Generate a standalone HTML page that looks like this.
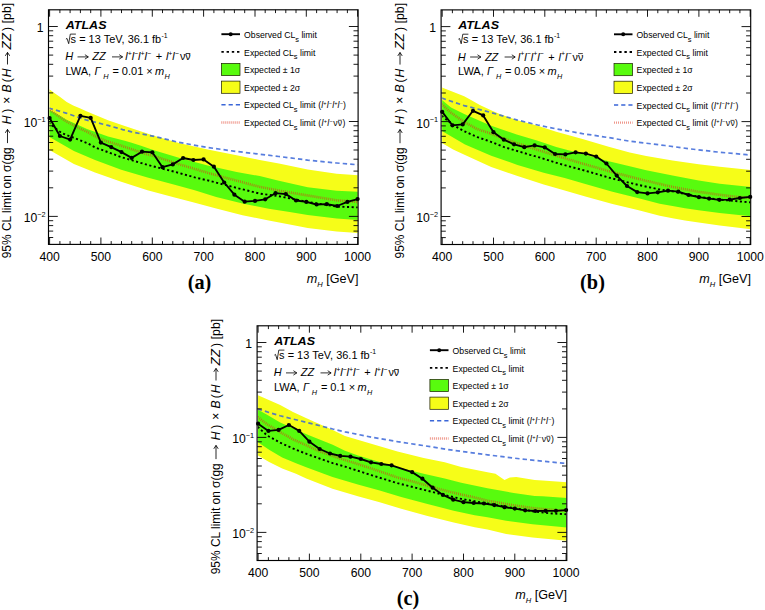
<!DOCTYPE html>
<html lang="en"><head><meta charset="utf-8"><title>ATLAS limits</title>
<style>html,body{margin:0;padding:0;background:#fff}body{width:765px;height:610px;overflow:hidden;font-family:"Liberation Sans",sans-serif}svg{display:block}</style></head>
<body>
<svg width="765" height="610" viewBox="0 0 765 610">
<rect width="765" height="610" fill="#fff"/>
<g id="panel-a">
<clipPath id="clip-a"><rect x="49.6" y="9.8" width="308.0" height="234.6"/></clipPath>
<g clip-path="url(#clip-a)">
<polygon fill="#f6fd18" points="48.7,88.9 53.6,92.4 60.1,97.1 66.7,102.0 73.2,105.6 79.8,108.2 87.0,111.5 108.0,120.2 124.8,125.9 154.7,136.0 178.9,143.1 207.7,149.6 236.6,155.3 259.7,160.0 278.9,163.5 307.7,169.5 336.6,173.8 358.0,175.3 358.0,233.0 336.6,231.5 307.7,227.9 289.7,224.5 268.7,220.5 242.5,215.3 216.2,208.5 192.0,201.9 173.7,197.2 147.5,190.2 121.2,181.7 95.0,172.6 73.9,164.0 48.7,149.6"/>
<polygon fill="#58fb0e" points="48.7,109.6 55.5,113.1 66.0,119.6 87.0,129.0 108.0,136.6 124.8,140.8 131.6,142.8 141.0,145.7 154.7,150.6 178.9,157.8 207.7,165.4 236.6,171.9 259.7,176.1 278.9,180.8 307.7,187.2 336.6,190.8 358.0,191.8 358.0,220.0 336.6,218.5 307.7,214.9 289.7,212.0 268.7,208.7 242.5,203.5 216.2,196.9 194.7,190.3 173.7,184.6 147.5,177.6 121.2,169.8 95.0,160.1 73.9,151.1 48.7,136.6"/>
<polyline fill="none" stroke="#e0341c" stroke-width="2.6" stroke-opacity="0.68" stroke-dasharray="0.85 1.15" points="48.7,109.0 55.5,113.9 66.0,121.2 76.5,127.0 87.0,131.7 97.5,137.5 108.0,141.7 118.5,144.8 131.6,149.2 146.0,154.0 154.7,156.3 178.9,164.2 207.7,172.8 236.6,180.7 259.7,186.8 278.9,190.6 307.7,195.5 336.6,200.3 358.0,202.0"/>
<polyline fill="none" stroke="#3a66d8" stroke-width="1.7" stroke-opacity="0.85" stroke-dasharray="4.4 3.1" points="48.7,108.0 66.0,113.1 87.0,120.2 108.0,125.4 122.7,129.6 131.6,131.9 154.7,136.5 178.9,142.4 207.7,147.5 236.6,151.5 259.7,154.2 278.9,156.5 307.7,160.1 336.6,163.0 358.0,164.8"/>
<polyline fill="none" stroke="#000" stroke-width="1.9" stroke-dasharray="2.1 2.5" points="48.7,122.3 57.6,130.1 61.8,133.0 66.0,134.9 76.5,138.8 87.0,143.0 95.0,147.4 102.7,150.2 121.2,157.1 147.5,164.9 173.7,171.5 194.7,177.4 207.7,180.4 236.6,187.9 259.7,193.6 278.9,196.2 307.7,201.9 336.6,206.6 358.0,207.4"/>
</g>
<polyline fill="none" stroke="#000" stroke-width="1.85" stroke-linejoin="round" points="49.6,118.0 59.9,136.0 70.1,139.6 80.4,115.8 90.7,117.9 100.9,142.6 111.2,147.1 121.5,152.1 131.7,157.9 142.0,151.7 152.3,152.3 162.5,167.2 172.8,164.4 183.1,158.0 193.4,160.0 203.6,159.4 213.9,166.7 224.2,182.5 234.4,194.7 244.7,201.7 255.0,200.9 265.2,199.3 275.5,193.2 285.8,194.1 296.0,200.5 306.3,201.9 316.6,204.5 326.8,204.1 337.1,206.0 347.4,201.9 357.6,199.1"/>
<circle cx="49.6" cy="118.0" r="2.1" fill="#000"/>
<circle cx="59.9" cy="136.0" r="2.1" fill="#000"/>
<circle cx="70.1" cy="139.6" r="2.1" fill="#000"/>
<circle cx="80.4" cy="115.8" r="2.1" fill="#000"/>
<circle cx="90.7" cy="117.9" r="2.1" fill="#000"/>
<circle cx="100.9" cy="142.6" r="2.1" fill="#000"/>
<circle cx="111.2" cy="147.1" r="2.1" fill="#000"/>
<circle cx="121.5" cy="152.1" r="2.1" fill="#000"/>
<circle cx="131.7" cy="157.9" r="2.1" fill="#000"/>
<circle cx="142.0" cy="151.7" r="2.1" fill="#000"/>
<circle cx="152.3" cy="152.3" r="2.1" fill="#000"/>
<circle cx="162.5" cy="167.2" r="2.1" fill="#000"/>
<circle cx="172.8" cy="164.4" r="2.1" fill="#000"/>
<circle cx="183.1" cy="158.0" r="2.1" fill="#000"/>
<circle cx="193.4" cy="160.0" r="2.1" fill="#000"/>
<circle cx="203.6" cy="159.4" r="2.1" fill="#000"/>
<circle cx="213.9" cy="166.7" r="2.1" fill="#000"/>
<circle cx="224.2" cy="182.5" r="2.1" fill="#000"/>
<circle cx="234.4" cy="194.7" r="2.1" fill="#000"/>
<circle cx="244.7" cy="201.7" r="2.1" fill="#000"/>
<circle cx="255.0" cy="200.9" r="2.1" fill="#000"/>
<circle cx="265.2" cy="199.3" r="2.1" fill="#000"/>
<circle cx="275.5" cy="193.2" r="2.1" fill="#000"/>
<circle cx="285.8" cy="194.1" r="2.1" fill="#000"/>
<circle cx="296.0" cy="200.5" r="2.1" fill="#000"/>
<circle cx="306.3" cy="201.9" r="2.1" fill="#000"/>
<circle cx="316.6" cy="204.5" r="2.1" fill="#000"/>
<circle cx="326.8" cy="204.1" r="2.1" fill="#000"/>
<circle cx="337.1" cy="206.0" r="2.1" fill="#000"/>
<circle cx="347.4" cy="201.9" r="2.1" fill="#000"/>
<circle cx="357.6" cy="199.1" r="2.1" fill="#000"/>
<rect x="48.5" y="9.8" width="309.6" height="234.6" fill="none" stroke="#000" stroke-width="1.15"/>
<path d="M49.6 244.4v-6.9M49.6 9.8v6.9M59.9 244.4v-3.3M59.9 9.8v3.3M70.1 244.4v-3.3M70.1 9.8v3.3M80.4 244.4v-3.3M80.4 9.8v3.3M90.7 244.4v-3.3M90.7 9.8v3.3M100.9 244.4v-6.9M100.9 9.8v6.9M111.2 244.4v-3.3M111.2 9.8v3.3M121.5 244.4v-3.3M121.5 9.8v3.3M131.7 244.4v-3.3M131.7 9.8v3.3M142.0 244.4v-3.3M142.0 9.8v3.3M152.3 244.4v-6.9M152.3 9.8v6.9M162.5 244.4v-3.3M162.5 9.8v3.3M172.8 244.4v-3.3M172.8 9.8v3.3M183.1 244.4v-3.3M183.1 9.8v3.3M193.4 244.4v-3.3M193.4 9.8v3.3M203.6 244.4v-6.9M203.6 9.8v6.9M213.9 244.4v-3.3M213.9 9.8v3.3M224.2 244.4v-3.3M224.2 9.8v3.3M234.4 244.4v-3.3M234.4 9.8v3.3M244.7 244.4v-3.3M244.7 9.8v3.3M255.0 244.4v-6.9M255.0 9.8v6.9M265.2 244.4v-3.3M265.2 9.8v3.3M275.5 244.4v-3.3M275.5 9.8v3.3M285.8 244.4v-3.3M285.8 9.8v3.3M296.0 244.4v-3.3M296.0 9.8v3.3M306.3 244.4v-6.9M306.3 9.8v6.9M316.6 244.4v-3.3M316.6 9.8v3.3M326.8 244.4v-3.3M326.8 9.8v3.3M337.1 244.4v-3.3M337.1 9.8v3.3M347.4 244.4v-3.3M347.4 9.8v3.3M357.6 244.4v-6.9M357.6 9.8v6.9M48.5 26.5h9.3M358.2 26.5h-9.3M48.5 121.5h9.3M358.2 121.5h-9.3M48.5 92.9h4.7M358.2 92.9h-4.7M48.5 76.1h4.7M358.2 76.1h-4.7M48.5 64.3h4.7M358.2 64.3h-4.7M48.5 55.1h4.7M358.2 55.1h-4.7M48.5 47.6h4.7M358.2 47.6h-4.7M48.5 41.2h4.7M358.2 41.2h-4.7M48.5 35.7h4.7M358.2 35.7h-4.7M48.5 30.8h4.7M358.2 30.8h-4.7M48.5 216.4h9.3M358.2 216.4h-9.3M48.5 187.8h4.7M358.2 187.8h-4.7M48.5 171.1h4.7M358.2 171.1h-4.7M48.5 159.2h4.7M358.2 159.2h-4.7M48.5 150.0h4.7M358.2 150.0h-4.7M48.5 142.5h4.7M358.2 142.5h-4.7M48.5 136.2h4.7M358.2 136.2h-4.7M48.5 130.7h4.7M358.2 130.7h-4.7M48.5 125.8h4.7M358.2 125.8h-4.7M48.5 237.5h4.7M358.2 237.5h-4.7M48.5 231.1h4.7M358.2 231.1h-4.7M48.5 225.6h4.7M358.2 225.6h-4.7M48.5 220.7h4.7M358.2 220.7h-4.7" stroke="#000" stroke-width="0.9" fill="none"/>
<g font-family="Liberation Sans, sans-serif"  fill="#000">
<text x="49.6" y="261.1" font-size="12.20" text-anchor="middle" >400</text>
<text x="100.9" y="261.1" font-size="12.20" text-anchor="middle" >500</text>
<text x="152.3" y="261.1" font-size="12.20" text-anchor="middle" >600</text>
<text x="203.6" y="261.1" font-size="12.20" text-anchor="middle" >700</text>
<text x="255.0" y="261.1" font-size="12.20" text-anchor="middle" >800</text>
<text x="306.3" y="261.1" font-size="12.20" text-anchor="middle" >900</text>
<text x="357.6" y="261.1" font-size="12.20" text-anchor="middle" >1000</text>
<text x="43.5" y="32.3" font-size="12.20" text-anchor="end" >1</text>
<text x="45.7" y="127.4" font-size="12.20" text-anchor="end" >10<tspan dy="-5.3" font-size="7.3">&#8722;1</tspan></text>
<text x="45.7" y="222.3" font-size="12.20" text-anchor="end" >10<tspan dy="-5.3" font-size="7.3">&#8722;2</tspan></text>
<text x="358.4" y="283.3" font-size="12.60" text-anchor="end" ><tspan font-style="italic">m</tspan><tspan dy="3.28" font-size="7.56" font-style="italic">H</tspan><tspan dy="-3.28" font-size="12.60">&#8203;</tspan> [GeV]</text>
<g transform="translate(11.4 258.3) rotate(-90)" font-size="12.1">
<text x="0.0" y="0" textLength="111.0" lengthAdjust="spacingAndGlyphs">95% CL limit on &#963;(gg</text>
<path d="M115.2 -3.9H128.9M125.5 -6.1l3.4 2.2l-3.4 2.2" fill="none" stroke="#000" stroke-width="0.85" stroke-linejoin="miter"/>
<text x="134.0" y="0" font-style="italic">H</text>
<text x="145.6" y="0" >)</text>
<text x="154.6" y="0" >&#215;</text>
<text x="165.8" y="0" font-style="italic">B</text>
<text x="176.0" y="0" >(</text>
<text x="181.0" y="0" font-style="italic">H</text>
<path d="M193.8 -3.9H205.9M202.5 -6.1l3.4 2.2l-3.4 2.2" fill="none" stroke="#000" stroke-width="0.85" stroke-linejoin="miter"/>
<text x="208.8" y="0" font-style="italic" textLength="16.4" lengthAdjust="spacingAndGlyphs">ZZ</text>
<text x="227.4" y="0" >)</text>
<text x="234.9" y="0" textLength="20.6" lengthAdjust="spacingAndGlyphs">[pb]</text>
</g>
<text x="65.7" y="28.6" font-size="11.40" text-anchor="start" font-weight="bold" font-style="italic" textLength="40.8" lengthAdjust="spacingAndGlyphs">ATLAS</text>
<path d="M65.9 39.1l1.1 -0.7l1.7 5.3l1.6 -9.6h5.6" fill="none" stroke="#000" stroke-width="0.8"/>
<text x="70.6" y="42.8" font-size="11.00" text-anchor="start" textLength="90.6" lengthAdjust="spacingAndGlyphs">s = 13 TeV, 36.1 fb</text>
<text x="161.5" y="38.2" font-size="6.90" text-anchor="start" >-1</text>
<text x="65.2" y="60.4" font-size="11.00" text-anchor="start" font-style="italic">H</text>
<path d="M77.5 56.9H88.3M84.9 54.7l3.4 2.2l-3.4 2.2" fill="none" stroke="#000" stroke-width="0.80" stroke-linejoin="miter"/>
<text x="92.3" y="60.4" font-size="11.00" text-anchor="start" font-style="italic">ZZ</text>
<path d="M112.0 56.9H122.6M119.2 54.7l3.4 2.2l-3.4 2.2" fill="none" stroke="#000" stroke-width="0.80" stroke-linejoin="miter"/>
<text x="125.2" y="60.4" font-size="11.00" text-anchor="start" font-style="italic" textLength="25.8" lengthAdjust="spacing">l<tspan dy="-4.18" font-size="6.82">+</tspan><tspan dy="4.18" font-size="11.00">&#8203;</tspan>l<tspan dy="-4.18" font-size="6.82">&#8722;</tspan><tspan dy="4.18" font-size="11.00">&#8203;</tspan>l<tspan dy="-4.18" font-size="6.82">+</tspan><tspan dy="4.18" font-size="11.00">&#8203;</tspan>l<tspan dy="-4.18" font-size="6.82">&#8722;</tspan><tspan dy="4.18" font-size="11.00">&#8203;</tspan></text>
<text x="155.7" y="60.4" font-size="11.00" text-anchor="start" >+</text>
<text x="165.9" y="60.4" font-size="11.00" text-anchor="start" font-style="italic" textLength="12.9" lengthAdjust="spacing">l<tspan dy="-4.18" font-size="6.82">+</tspan><tspan dy="4.18" font-size="11.00">&#8203;</tspan>l<tspan dy="-4.18" font-size="6.82">&#8722;</tspan><tspan dy="4.18" font-size="11.00">&#8203;</tspan></text>
<text x="179.9" y="60.4" font-size="11.00" text-anchor="start" textLength="10.8" lengthAdjust="spacingAndGlyphs">&#957;&#957;</text>
<path d="M185.7 53.5h4.6" stroke="#000" stroke-width="0.75"/>
<text x="65.5" y="75.3" font-size="11.00" text-anchor="start" >LWA,</text>
<text x="94.5" y="75.3" font-size="11.00" text-anchor="start" font-style="italic">&#915;</text>
<text x="103.3" y="78.5" font-size="7.30" text-anchor="start" font-style="italic">H</text>
<text x="112.4" y="75.3" font-size="11.00" text-anchor="start" >= 0.01 &#215;</text>
<text x="155.0" y="75.3" font-size="11.00" text-anchor="start" font-style="italic">m</text>
<text x="164.5" y="78.5" font-size="7.30" text-anchor="start" font-style="italic">H</text>
<path d="M221.4 34.2H240.0" stroke="#000" stroke-width="1.9"/>
<circle cx="230.7" cy="34.2" r="2.0" fill="#000"/>
<path d="M221.4 51.9H240.0" stroke="#000" stroke-width="1.9" stroke-dasharray="2.4 2.8"/>
<rect x="221.4" y="63.4" width="18.6" height="12.2" fill="#58fb0e" stroke="#1a1a00" stroke-width="0.7"/>
<rect x="221.4" y="81.1" width="18.6" height="12.2" fill="#f6fd18" stroke="#1a1a00" stroke-width="0.7"/>
<path d="M221.4 104.8H240.0" stroke="#3a66d8" stroke-width="1.5" stroke-dasharray="4.2 3.0"/>
<path d="M221.4 122.5H240.0" stroke="#e0341c" stroke-width="2.3" stroke-opacity="0.6" stroke-dasharray="0.85 1.15"/>
<text x="244.1" y="37.8" font-size="8.70" text-anchor="start" id="lg-a-0">Observed CL<tspan dy="3.83" font-size="7.48" font-style="normal">s</tspan><tspan dy="-3.83" font-size="8.70">&#8203;</tspan> limit</text>
<text x="244.1" y="55.5" font-size="8.70" text-anchor="start" id="lg-a-1">Expected CL<tspan dy="3.83" font-size="7.48" font-style="normal">s</tspan><tspan dy="-3.83" font-size="8.70">&#8203;</tspan> limit</text>
<text x="244.1" y="73.1" font-size="8.70" text-anchor="start" id="lg-a-2">Expected &#177; 1&#963;</text>
<text x="244.1" y="90.8" font-size="8.70" text-anchor="start" id="lg-a-3">Expected &#177; 2&#963;</text>
<text x="244.1" y="108.4" font-size="8.70" text-anchor="start" id="lg-a-4">Expected CL<tspan dy="3.83" font-size="7.48" font-style="normal">s</tspan><tspan dy="-3.83" font-size="8.70">&#8203;</tspan> limit</text>
<text x="244.1" y="126.1" font-size="8.70" text-anchor="start" id="lg-a-5">Expected CL<tspan dy="3.83" font-size="7.48" font-style="normal">s</tspan><tspan dy="-3.83" font-size="8.70">&#8203;</tspan> limit</text>
<text x="318.3" y="108.4" font-size="8.70" text-anchor="start" textLength="27.6" lengthAdjust="spacing">(<tspan font-style="italic">l<tspan dy="-3.31" font-size="5.39">+</tspan><tspan dy="3.31" font-size="8.70">&#8203;</tspan>l<tspan dy="-3.31" font-size="5.39">&#8722;</tspan><tspan dy="3.31" font-size="8.70">&#8203;</tspan>l<tspan dy="-3.31" font-size="5.39">+</tspan><tspan dy="3.31" font-size="8.70">&#8203;</tspan>l<tspan dy="-3.31" font-size="5.39">&#8722;</tspan><tspan dy="3.31" font-size="8.70">&#8203;</tspan></tspan>)</text>
<text x="318.3" y="126.1" font-size="8.70" text-anchor="start" textLength="27.0" lengthAdjust="spacing">(<tspan font-style="italic">l<tspan dy="-3.31" font-size="5.39">+</tspan><tspan dy="3.31" font-size="8.70">&#8203;</tspan>l<tspan dy="-3.31" font-size="5.39">&#8722;</tspan><tspan dy="3.31" font-size="8.70">&#8203;</tspan></tspan>&#957;&#957;)</text>
<path d="M337.9 120.3h3.9" stroke="#000" stroke-width="0.65"/>
</g>
</g>
<g id="panel-b">
<clipPath id="clip-b"><rect x="442.2" y="9.9" width="308.0" height="234.6"/></clipPath>
<g clip-path="url(#clip-b)">
<polygon fill="#f6fd18" points="441.7,87.5 464.2,96.2 471.0,99.9 479.8,105.1 490.5,110.0 500.8,114.4 516.7,119.9 537.7,125.7 556.2,131.7 582.5,139.1 608.7,146.8 629.7,152.5 646.2,155.9 672.5,160.4 698.7,164.2 719.7,166.7 751.0,170.0 751.0,229.3 719.7,225.6 698.7,222.5 685.0,220.4 672.5,218.2 659.7,215.8 638.7,210.3 612.5,204.0 586.2,196.7 564.7,190.6 543.7,184.6 517.5,176.1 491.2,166.9 465.0,155.0 453.1,149.4 441.7,142.9"/>
<polygon fill="#58fb0e" points="441.7,99.7 451.0,107.4 464.2,114.1 490.5,125.5 516.7,134.6 537.7,140.7 556.2,147.0 582.5,154.0 608.7,161.3 629.7,166.2 646.2,170.3 672.5,175.5 698.7,180.4 719.7,183.7 751.0,187.1 751.0,216.2 719.7,212.9 698.7,210.2 685.0,208.2 672.5,206.0 659.7,203.7 638.7,198.3 612.5,191.7 586.2,184.2 564.7,178.1 543.7,172.8 517.5,164.9 491.2,155.7 465.0,144.6 441.7,130.8"/>
<polyline fill="none" stroke="#e0341c" stroke-width="2.6" stroke-opacity="0.68" stroke-dasharray="0.85 1.15" points="441.7,104.2 451.1,112.8 464.2,122.0 477.4,129.2 490.5,133.4 503.6,138.7 516.7,143.1 529.9,147.3 537.7,149.9 556.2,155.7 582.5,163.6 608.7,171.1 629.7,176.5 646.2,180.8 672.5,186.9 698.7,191.8 717.5,194.5 737.0,196.9 751.0,197.8"/>
<polyline fill="none" stroke="#3a66d8" stroke-width="1.7" stroke-opacity="0.85" stroke-dasharray="4.4 3.1" points="441.7,98.1 464.2,105.6 490.5,112.4 516.7,119.9 537.7,125.0 556.2,128.9 582.5,133.6 608.7,137.6 629.7,141.2 665.0,145.5 691.2,149.0 717.5,152.0 746.4,154.7 751.0,155.1"/>
<polyline fill="none" stroke="#000" stroke-width="1.9" stroke-dasharray="2.1 2.5" points="441.7,115.8 453.7,125.3 464.2,131.2 477.4,137.1 490.5,141.7 503.6,146.9 516.7,150.8 529.9,154.8 537.7,156.9 560.0,163.9 586.2,171.0 612.5,178.6 638.7,185.0 659.7,189.5 672.5,191.3 698.7,196.8 719.7,199.6 739.0,201.4 751.0,202.4"/>
</g>
<polyline fill="none" stroke="#000" stroke-width="1.85" stroke-linejoin="round" points="442.2,111.9 452.4,125.3 462.7,124.4 473.0,110.8 483.2,115.4 493.5,132.2 503.8,139.7 514.0,144.3 524.3,147.2 534.6,145.4 544.8,147.4 555.1,154.0 565.4,154.4 575.6,152.3 585.9,153.6 596.2,156.6 606.4,163.5 616.7,175.6 627.0,186.0 637.2,192.1 647.5,193.4 657.8,192.3 668.0,190.7 678.3,191.7 688.6,195.0 698.9,197.2 709.1,198.6 719.4,199.8 729.7,199.6 739.9,198.0 750.2,196.9"/>
<circle cx="442.2" cy="111.9" r="2.1" fill="#000"/>
<circle cx="452.4" cy="125.3" r="2.1" fill="#000"/>
<circle cx="462.7" cy="124.4" r="2.1" fill="#000"/>
<circle cx="473.0" cy="110.8" r="2.1" fill="#000"/>
<circle cx="483.2" cy="115.4" r="2.1" fill="#000"/>
<circle cx="493.5" cy="132.2" r="2.1" fill="#000"/>
<circle cx="503.8" cy="139.7" r="2.1" fill="#000"/>
<circle cx="514.0" cy="144.3" r="2.1" fill="#000"/>
<circle cx="524.3" cy="147.2" r="2.1" fill="#000"/>
<circle cx="534.6" cy="145.4" r="2.1" fill="#000"/>
<circle cx="544.8" cy="147.4" r="2.1" fill="#000"/>
<circle cx="555.1" cy="154.0" r="2.1" fill="#000"/>
<circle cx="565.4" cy="154.4" r="2.1" fill="#000"/>
<circle cx="575.6" cy="152.3" r="2.1" fill="#000"/>
<circle cx="585.9" cy="153.6" r="2.1" fill="#000"/>
<circle cx="596.2" cy="156.6" r="2.1" fill="#000"/>
<circle cx="606.4" cy="163.5" r="2.1" fill="#000"/>
<circle cx="616.7" cy="175.6" r="2.1" fill="#000"/>
<circle cx="627.0" cy="186.0" r="2.1" fill="#000"/>
<circle cx="637.2" cy="192.1" r="2.1" fill="#000"/>
<circle cx="647.5" cy="193.4" r="2.1" fill="#000"/>
<circle cx="657.8" cy="192.3" r="2.1" fill="#000"/>
<circle cx="668.0" cy="190.7" r="2.1" fill="#000"/>
<circle cx="678.3" cy="191.7" r="2.1" fill="#000"/>
<circle cx="688.6" cy="195.0" r="2.1" fill="#000"/>
<circle cx="698.9" cy="197.2" r="2.1" fill="#000"/>
<circle cx="709.1" cy="198.6" r="2.1" fill="#000"/>
<circle cx="719.4" cy="199.8" r="2.1" fill="#000"/>
<circle cx="729.7" cy="199.6" r="2.1" fill="#000"/>
<circle cx="739.9" cy="198.0" r="2.1" fill="#000"/>
<circle cx="750.2" cy="196.9" r="2.1" fill="#000"/>
<rect x="441.1" y="9.9" width="309.6" height="234.6" fill="none" stroke="#000" stroke-width="1.15"/>
<path d="M442.2 244.5v-6.9M442.2 9.9v6.9M452.4 244.5v-3.3M452.4 9.9v3.3M462.7 244.5v-3.3M462.7 9.9v3.3M473.0 244.5v-3.3M473.0 9.9v3.3M483.2 244.5v-3.3M483.2 9.9v3.3M493.5 244.5v-6.9M493.5 9.9v6.9M503.8 244.5v-3.3M503.8 9.9v3.3M514.0 244.5v-3.3M514.0 9.9v3.3M524.3 244.5v-3.3M524.3 9.9v3.3M534.6 244.5v-3.3M534.6 9.9v3.3M544.8 244.5v-6.9M544.8 9.9v6.9M555.1 244.5v-3.3M555.1 9.9v3.3M565.4 244.5v-3.3M565.4 9.9v3.3M575.6 244.5v-3.3M575.6 9.9v3.3M585.9 244.5v-3.3M585.9 9.9v3.3M596.2 244.5v-6.9M596.2 9.9v6.9M606.4 244.5v-3.3M606.4 9.9v3.3M616.7 244.5v-3.3M616.7 9.9v3.3M627.0 244.5v-3.3M627.0 9.9v3.3M637.2 244.5v-3.3M637.2 9.9v3.3M647.5 244.5v-6.9M647.5 9.9v6.9M657.8 244.5v-3.3M657.8 9.9v3.3M668.0 244.5v-3.3M668.0 9.9v3.3M678.3 244.5v-3.3M678.3 9.9v3.3M688.6 244.5v-3.3M688.6 9.9v3.3M698.9 244.5v-6.9M698.9 9.9v6.9M709.1 244.5v-3.3M709.1 9.9v3.3M719.4 244.5v-3.3M719.4 9.9v3.3M729.7 244.5v-3.3M729.7 9.9v3.3M739.9 244.5v-3.3M739.9 9.9v3.3M750.2 244.5v-6.9M750.2 9.9v6.9M441.1 26.6h9.3M750.8 26.6h-9.3M441.1 121.6h9.3M750.8 121.6h-9.3M441.1 93.0h4.7M750.8 93.0h-4.7M441.1 76.2h4.7M750.8 76.2h-4.7M441.1 64.4h4.7M750.8 64.4h-4.7M441.1 55.2h4.7M750.8 55.2h-4.7M441.1 47.7h4.7M750.8 47.7h-4.7M441.1 41.3h4.7M750.8 41.3h-4.7M441.1 35.8h4.7M750.8 35.8h-4.7M441.1 30.9h4.7M750.8 30.9h-4.7M441.1 216.5h9.3M750.8 216.5h-9.3M441.1 187.9h4.7M750.8 187.9h-4.7M441.1 171.2h4.7M750.8 171.2h-4.7M441.1 159.3h4.7M750.8 159.3h-4.7M441.1 150.1h4.7M750.8 150.1h-4.7M441.1 142.6h4.7M750.8 142.6h-4.7M441.1 136.3h4.7M750.8 136.3h-4.7M441.1 130.8h4.7M750.8 130.8h-4.7M441.1 125.9h4.7M750.8 125.9h-4.7M441.1 237.6h4.7M750.8 237.6h-4.7M441.1 231.2h4.7M750.8 231.2h-4.7M441.1 225.7h4.7M750.8 225.7h-4.7M441.1 220.8h4.7M750.8 220.8h-4.7" stroke="#000" stroke-width="0.9" fill="none"/>
<g font-family="Liberation Sans, sans-serif"  fill="#000">
<text x="442.2" y="261.2" font-size="12.20" text-anchor="middle" >400</text>
<text x="493.5" y="261.2" font-size="12.20" text-anchor="middle" >500</text>
<text x="544.8" y="261.2" font-size="12.20" text-anchor="middle" >600</text>
<text x="596.2" y="261.2" font-size="12.20" text-anchor="middle" >700</text>
<text x="647.5" y="261.2" font-size="12.20" text-anchor="middle" >800</text>
<text x="698.9" y="261.2" font-size="12.20" text-anchor="middle" >900</text>
<text x="750.2" y="261.2" font-size="12.20" text-anchor="middle" >1000</text>
<text x="436.1" y="32.4" font-size="12.20" text-anchor="end" >1</text>
<text x="438.2" y="127.5" font-size="12.20" text-anchor="end" >10<tspan dy="-5.3" font-size="7.3">&#8722;1</tspan></text>
<text x="438.2" y="222.4" font-size="12.20" text-anchor="end" >10<tspan dy="-5.3" font-size="7.3">&#8722;2</tspan></text>
<text x="750.9" y="283.4" font-size="12.60" text-anchor="end" ><tspan font-style="italic">m</tspan><tspan dy="3.28" font-size="7.56" font-style="italic">H</tspan><tspan dy="-3.28" font-size="12.60">&#8203;</tspan> [GeV]</text>
<g transform="translate(403.9 258.4) rotate(-90)" font-size="12.1">
<text x="0.0" y="0" textLength="111.0" lengthAdjust="spacingAndGlyphs">95% CL limit on &#963;(gg</text>
<path d="M115.2 -3.9H128.9M125.5 -6.1l3.4 2.2l-3.4 2.2" fill="none" stroke="#000" stroke-width="0.85" stroke-linejoin="miter"/>
<text x="134.0" y="0" font-style="italic">H</text>
<text x="145.6" y="0" >)</text>
<text x="154.6" y="0" >&#215;</text>
<text x="165.8" y="0" font-style="italic">B</text>
<text x="176.0" y="0" >(</text>
<text x="181.0" y="0" font-style="italic">H</text>
<path d="M193.8 -3.9H205.9M202.5 -6.1l3.4 2.2l-3.4 2.2" fill="none" stroke="#000" stroke-width="0.85" stroke-linejoin="miter"/>
<text x="208.8" y="0" font-style="italic" textLength="16.4" lengthAdjust="spacingAndGlyphs">ZZ</text>
<text x="227.4" y="0" >)</text>
<text x="234.9" y="0" textLength="20.6" lengthAdjust="spacingAndGlyphs">[pb]</text>
</g>
<text x="458.2" y="28.7" font-size="11.40" text-anchor="start" font-weight="bold" font-style="italic" textLength="40.8" lengthAdjust="spacingAndGlyphs">ATLAS</text>
<path d="M458.4 39.2l1.1 -0.7l1.7 5.3l1.6 -9.6h5.6" fill="none" stroke="#000" stroke-width="0.8"/>
<text x="463.1" y="42.9" font-size="11.00" text-anchor="start" textLength="90.6" lengthAdjust="spacingAndGlyphs">s = 13 TeV, 36.1 fb</text>
<text x="554.0" y="38.3" font-size="6.90" text-anchor="start" >-1</text>
<text x="457.8" y="60.5" font-size="11.00" text-anchor="start" font-style="italic">H</text>
<path d="M470.1 57.0H480.9M477.5 54.8l3.4 2.2l-3.4 2.2" fill="none" stroke="#000" stroke-width="0.80" stroke-linejoin="miter"/>
<text x="484.9" y="60.5" font-size="11.00" text-anchor="start" font-style="italic">ZZ</text>
<path d="M504.6 57.0H515.1M511.8 54.8l3.4 2.2l-3.4 2.2" fill="none" stroke="#000" stroke-width="0.80" stroke-linejoin="miter"/>
<text x="517.8" y="60.5" font-size="11.00" text-anchor="start" font-style="italic" textLength="25.8" lengthAdjust="spacing">l<tspan dy="-4.18" font-size="6.82">+</tspan><tspan dy="4.18" font-size="11.00">&#8203;</tspan>l<tspan dy="-4.18" font-size="6.82">&#8722;</tspan><tspan dy="4.18" font-size="11.00">&#8203;</tspan>l<tspan dy="-4.18" font-size="6.82">+</tspan><tspan dy="4.18" font-size="11.00">&#8203;</tspan>l<tspan dy="-4.18" font-size="6.82">&#8722;</tspan><tspan dy="4.18" font-size="11.00">&#8203;</tspan></text>
<text x="548.2" y="60.5" font-size="11.00" text-anchor="start" >+</text>
<text x="558.5" y="60.5" font-size="11.00" text-anchor="start" font-style="italic" textLength="12.9" lengthAdjust="spacing">l<tspan dy="-4.18" font-size="6.82">+</tspan><tspan dy="4.18" font-size="11.00">&#8203;</tspan>l<tspan dy="-4.18" font-size="6.82">&#8722;</tspan><tspan dy="4.18" font-size="11.00">&#8203;</tspan></text>
<text x="572.5" y="60.5" font-size="11.00" text-anchor="start" textLength="10.8" lengthAdjust="spacingAndGlyphs">&#957;&#957;</text>
<path d="M578.2 53.6h4.6" stroke="#000" stroke-width="0.75"/>
<text x="458.1" y="75.4" font-size="11.00" text-anchor="start" >LWA,</text>
<text x="487.1" y="75.4" font-size="11.00" text-anchor="start" font-style="italic">&#915;</text>
<text x="495.9" y="78.6" font-size="7.30" text-anchor="start" font-style="italic">H</text>
<text x="504.9" y="75.4" font-size="11.00" text-anchor="start" >= 0.05 &#215;</text>
<text x="547.5" y="75.4" font-size="11.00" text-anchor="start" font-style="italic">m</text>
<text x="557.0" y="78.6" font-size="7.30" text-anchor="start" font-style="italic">H</text>
<path d="M614.0 34.3H632.5" stroke="#000" stroke-width="1.9"/>
<circle cx="623.2" cy="34.3" r="2.0" fill="#000"/>
<path d="M614.0 52.0H632.5" stroke="#000" stroke-width="1.9" stroke-dasharray="2.4 2.8"/>
<rect x="614.0" y="63.5" width="18.6" height="12.2" fill="#58fb0e" stroke="#1a1a00" stroke-width="0.7"/>
<rect x="614.0" y="81.2" width="18.6" height="12.2" fill="#f6fd18" stroke="#1a1a00" stroke-width="0.7"/>
<path d="M614.0 104.9H632.5" stroke="#3a66d8" stroke-width="1.5" stroke-dasharray="4.2 3.0"/>
<path d="M614.0 122.6H632.5" stroke="#e0341c" stroke-width="2.3" stroke-opacity="0.6" stroke-dasharray="0.85 1.15"/>
<text x="636.6" y="37.9" font-size="8.70" text-anchor="start" id="lg-b-0">Observed CL<tspan dy="3.83" font-size="7.48" font-style="normal">s</tspan><tspan dy="-3.83" font-size="8.70">&#8203;</tspan> limit</text>
<text x="636.6" y="55.6" font-size="8.70" text-anchor="start" id="lg-b-1">Expected CL<tspan dy="3.83" font-size="7.48" font-style="normal">s</tspan><tspan dy="-3.83" font-size="8.70">&#8203;</tspan> limit</text>
<text x="636.6" y="73.2" font-size="8.70" text-anchor="start" id="lg-b-2">Expected &#177; 1&#963;</text>
<text x="636.6" y="90.9" font-size="8.70" text-anchor="start" id="lg-b-3">Expected &#177; 2&#963;</text>
<text x="636.6" y="108.5" font-size="8.70" text-anchor="start" id="lg-b-4">Expected CL<tspan dy="3.83" font-size="7.48" font-style="normal">s</tspan><tspan dy="-3.83" font-size="8.70">&#8203;</tspan> limit</text>
<text x="636.6" y="126.2" font-size="8.70" text-anchor="start" id="lg-b-5">Expected CL<tspan dy="3.83" font-size="7.48" font-style="normal">s</tspan><tspan dy="-3.83" font-size="8.70">&#8203;</tspan> limit</text>
<text x="710.9" y="108.5" font-size="8.70" text-anchor="start" textLength="27.6" lengthAdjust="spacing">(<tspan font-style="italic">l<tspan dy="-3.31" font-size="5.39">+</tspan><tspan dy="3.31" font-size="8.70">&#8203;</tspan>l<tspan dy="-3.31" font-size="5.39">&#8722;</tspan><tspan dy="3.31" font-size="8.70">&#8203;</tspan>l<tspan dy="-3.31" font-size="5.39">+</tspan><tspan dy="3.31" font-size="8.70">&#8203;</tspan>l<tspan dy="-3.31" font-size="5.39">&#8722;</tspan><tspan dy="3.31" font-size="8.70">&#8203;</tspan></tspan>)</text>
<text x="710.9" y="126.2" font-size="8.70" text-anchor="start" textLength="27.0" lengthAdjust="spacing">(<tspan font-style="italic">l<tspan dy="-3.31" font-size="5.39">+</tspan><tspan dy="3.31" font-size="8.70">&#8203;</tspan>l<tspan dy="-3.31" font-size="5.39">&#8722;</tspan><tspan dy="3.31" font-size="8.70">&#8203;</tspan></tspan>&#957;&#957;)</text>
<path d="M730.5 120.4h3.9" stroke="#000" stroke-width="0.65"/>
</g>
</g>
<g id="panel-c">
<clipPath id="clip-c"><rect x="258.1" y="325.8" width="308.0" height="234.7"/></clipPath>
<g clip-path="url(#clip-c)">
<polygon fill="#f6fd18" points="257.7,395.0 280.2,404.9 293.0,411.9 306.5,418.2 332.7,429.9 345.0,435.9 371.2,443.8 397.5,451.5 423.7,458.1 444.7,462.3 461.2,467.1 487.5,472.3 495.5,473.8 500.5,477.2 504.5,480.0 509.8,477.6 516.3,477.0 534.7,480.0 542.5,480.4 567.0,482.2 567.0,540.8 532.5,537.6 506.2,533.9 487.5,529.5 474.7,527.2 453.7,522.5 427.5,516.1 401.2,508.7 379.7,502.2 358.7,496.6 332.5,488.7 306.2,478.6 296.0,473.8 282.2,468.5 269.1,462.0 257.7,455.4"/>
<polygon fill="#58fb0e" points="257.7,409.7 267.1,414.8 280.2,422.4 306.5,434.2 332.7,444.8 345.0,450.7 358.0,455.5 371.2,459.6 397.5,467.2 423.7,473.8 444.7,478.4 461.2,482.8 487.5,488.3 513.7,492.9 534.7,495.9 542.5,496.3 567.0,498.0 567.0,527.6 532.5,524.2 506.2,520.8 487.5,517.2 474.7,515.2 453.7,510.7 427.5,504.1 401.2,496.9 379.7,490.5 358.7,484.7 332.5,476.9 306.2,467.2 296.0,463.3 282.2,457.4 269.1,449.8 257.7,442.0"/>
<polyline fill="none" stroke="#e0341c" stroke-width="2.6" stroke-opacity="0.68" stroke-dasharray="0.85 1.15" points="257.7,417.0 267.1,424.3 280.2,432.2 293.4,439.5 306.5,445.4 319.6,451.3 332.7,455.9 345.0,460.0 371.2,468.4 397.5,477.5 415.9,482.4 436.8,488.4 457.8,493.8 475.0,497.5 487.5,500.7 513.7,505.3 534.7,508.4 556.0,510.2 567.0,510.8"/>
<polyline fill="none" stroke="#3a66d8" stroke-width="1.7" stroke-opacity="0.85" stroke-dasharray="4.4 3.1" points="257.7,409.0 280.2,415.8 306.5,422.4 332.7,429.0 345.0,431.8 371.2,437.1 397.5,441.7 423.7,445.6 448.1,449.6 487.5,454.8 513.7,458.1 542.5,461.2 562.8,463.1 567.0,463.5"/>
<polyline fill="none" stroke="#000" stroke-width="1.9" stroke-dasharray="2.1 2.5" points="257.7,426.8 267.1,435.5 280.2,442.7 293.4,448.6 306.5,453.9 319.6,458.5 332.7,463.1 345.0,466.6 371.2,475.1 397.5,483.2 423.7,489.8 436.9,493.1 448.1,495.9 461.2,498.9 487.5,503.5 513.7,508.0 534.7,511.6 552.0,513.5 567.0,514.3"/>
</g>
<polyline fill="none" stroke="#000" stroke-width="1.85" stroke-linejoin="round" points="258.1,423.7 268.4,430.9 278.6,429.9 288.9,425.0 299.2,430.9 309.4,441.7 319.7,449.0 330.0,453.5 340.2,455.9 350.5,456.7 360.8,459.0 371.0,462.3 381.3,464.0 391.6,465.3 412.1,472.1 422.4,478.7 432.7,487.7 442.9,494.9 453.2,499.7 463.5,502.2 473.7,503.0 484.0,503.5 494.3,505.1 504.5,507.2 514.8,508.6 525.1,510.3 535.3,511.0 545.6,510.8 555.9,510.8 566.1,510.1"/>
<circle cx="258.1" cy="423.7" r="2.1" fill="#000"/>
<circle cx="268.4" cy="430.9" r="2.1" fill="#000"/>
<circle cx="278.6" cy="429.9" r="2.1" fill="#000"/>
<circle cx="288.9" cy="425.0" r="2.1" fill="#000"/>
<circle cx="299.2" cy="430.9" r="2.1" fill="#000"/>
<circle cx="309.4" cy="441.7" r="2.1" fill="#000"/>
<circle cx="319.7" cy="449.0" r="2.1" fill="#000"/>
<circle cx="330.0" cy="453.5" r="2.1" fill="#000"/>
<circle cx="340.2" cy="455.9" r="2.1" fill="#000"/>
<circle cx="350.5" cy="456.7" r="2.1" fill="#000"/>
<circle cx="360.8" cy="459.0" r="2.1" fill="#000"/>
<circle cx="371.0" cy="462.3" r="2.1" fill="#000"/>
<circle cx="381.3" cy="464.0" r="2.1" fill="#000"/>
<circle cx="391.6" cy="465.3" r="2.1" fill="#000"/>
<circle cx="412.1" cy="472.1" r="2.1" fill="#000"/>
<circle cx="422.4" cy="478.7" r="2.1" fill="#000"/>
<circle cx="432.7" cy="487.7" r="2.1" fill="#000"/>
<circle cx="442.9" cy="494.9" r="2.1" fill="#000"/>
<circle cx="453.2" cy="499.7" r="2.1" fill="#000"/>
<circle cx="463.5" cy="502.2" r="2.1" fill="#000"/>
<circle cx="473.7" cy="503.0" r="2.1" fill="#000"/>
<circle cx="484.0" cy="503.5" r="2.1" fill="#000"/>
<circle cx="494.3" cy="505.1" r="2.1" fill="#000"/>
<circle cx="504.5" cy="507.2" r="2.1" fill="#000"/>
<circle cx="514.8" cy="508.6" r="2.1" fill="#000"/>
<circle cx="525.1" cy="510.3" r="2.1" fill="#000"/>
<circle cx="535.3" cy="511.0" r="2.1" fill="#000"/>
<circle cx="545.6" cy="510.8" r="2.1" fill="#000"/>
<circle cx="555.9" cy="510.8" r="2.1" fill="#000"/>
<circle cx="566.1" cy="510.1" r="2.1" fill="#000"/>
<rect x="257.1" y="325.8" width="309.7" height="234.7" fill="none" stroke="#000" stroke-width="1.15"/>
<path d="M258.1 560.5v-6.9M258.1 325.8v6.9M268.4 560.5v-3.3M268.4 325.8v3.3M278.6 560.5v-3.3M278.6 325.8v3.3M288.9 560.5v-3.3M288.9 325.8v3.3M299.2 560.5v-3.3M299.2 325.8v3.3M309.4 560.5v-6.9M309.4 325.8v6.9M319.7 560.5v-3.3M319.7 325.8v3.3M330.0 560.5v-3.3M330.0 325.8v3.3M340.2 560.5v-3.3M340.2 325.8v3.3M350.5 560.5v-3.3M350.5 325.8v3.3M360.8 560.5v-6.9M360.8 325.8v6.9M371.0 560.5v-3.3M371.0 325.8v3.3M381.3 560.5v-3.3M381.3 325.8v3.3M391.6 560.5v-3.3M391.6 325.8v3.3M401.9 560.5v-3.3M401.9 325.8v3.3M412.1 560.5v-6.9M412.1 325.8v6.9M422.4 560.5v-3.3M422.4 325.8v3.3M432.7 560.5v-3.3M432.7 325.8v3.3M442.9 560.5v-3.3M442.9 325.8v3.3M453.2 560.5v-3.3M453.2 325.8v3.3M463.5 560.5v-6.9M463.5 325.8v6.9M473.7 560.5v-3.3M473.7 325.8v3.3M484.0 560.5v-3.3M484.0 325.8v3.3M494.3 560.5v-3.3M494.3 325.8v3.3M504.5 560.5v-3.3M504.5 325.8v3.3M514.8 560.5v-6.9M514.8 325.8v6.9M525.1 560.5v-3.3M525.1 325.8v3.3M535.3 560.5v-3.3M535.3 325.8v3.3M545.6 560.5v-3.3M545.6 325.8v3.3M555.9 560.5v-3.3M555.9 325.8v3.3M566.1 560.5v-6.9M566.1 325.8v6.9M257.1 342.5h9.3M566.7 342.5h-9.3M257.1 437.4h9.3M566.7 437.4h-9.3M257.1 408.9h4.7M566.7 408.9h-4.7M257.1 392.1h4.7M566.7 392.1h-4.7M257.1 380.3h4.7M566.7 380.3h-4.7M257.1 371.1h4.7M566.7 371.1h-4.7M257.1 363.6h4.7M566.7 363.6h-4.7M257.1 357.2h4.7M566.7 357.2h-4.7M257.1 351.7h4.7M566.7 351.7h-4.7M257.1 346.8h4.7M566.7 346.8h-4.7M257.1 532.4h9.3M566.7 532.4h-9.3M257.1 503.8h4.7M566.7 503.8h-4.7M257.1 487.1h4.7M566.7 487.1h-4.7M257.1 475.2h4.7M566.7 475.2h-4.7M257.1 466.0h4.7M566.7 466.0h-4.7M257.1 458.5h4.7M566.7 458.5h-4.7M257.1 452.2h4.7M566.7 452.2h-4.7M257.1 446.7h4.7M566.7 446.7h-4.7M257.1 441.8h4.7M566.7 441.8h-4.7M257.1 553.5h4.7M566.7 553.5h-4.7M257.1 547.1h4.7M566.7 547.1h-4.7M257.1 541.6h4.7M566.7 541.6h-4.7M257.1 536.7h4.7M566.7 536.7h-4.7" stroke="#000" stroke-width="0.9" fill="none"/>
<g font-family="Liberation Sans, sans-serif"  fill="#000">
<text x="258.1" y="577.1" font-size="12.20" text-anchor="middle" >400</text>
<text x="309.4" y="577.1" font-size="12.20" text-anchor="middle" >500</text>
<text x="360.8" y="577.1" font-size="12.20" text-anchor="middle" >600</text>
<text x="412.1" y="577.1" font-size="12.20" text-anchor="middle" >700</text>
<text x="463.5" y="577.1" font-size="12.20" text-anchor="middle" >800</text>
<text x="514.8" y="577.1" font-size="12.20" text-anchor="middle" >900</text>
<text x="566.1" y="577.1" font-size="12.20" text-anchor="middle" >1000</text>
<text x="252.0" y="348.3" font-size="12.20" text-anchor="end" >1</text>
<text x="254.2" y="443.3" font-size="12.20" text-anchor="end" >10<tspan dy="-5.3" font-size="7.3">&#8722;1</tspan></text>
<text x="254.2" y="538.3" font-size="12.20" text-anchor="end" >10<tspan dy="-5.3" font-size="7.3">&#8722;2</tspan></text>
<text x="566.9" y="599.3" font-size="12.60" text-anchor="end" ><tspan font-style="italic">m</tspan><tspan dy="3.28" font-size="7.56" font-style="italic">H</tspan><tspan dy="-3.28" font-size="12.60">&#8203;</tspan> [GeV]</text>
<g transform="translate(219.9 574.3) rotate(-90)" font-size="12.1">
<text x="0.0" y="0" textLength="111.0" lengthAdjust="spacingAndGlyphs">95% CL limit on &#963;(gg</text>
<path d="M115.2 -3.9H128.9M125.5 -6.1l3.4 2.2l-3.4 2.2" fill="none" stroke="#000" stroke-width="0.85" stroke-linejoin="miter"/>
<text x="134.0" y="0" font-style="italic">H</text>
<text x="145.6" y="0" >)</text>
<text x="154.6" y="0" >&#215;</text>
<text x="165.8" y="0" font-style="italic">B</text>
<text x="176.0" y="0" >(</text>
<text x="181.0" y="0" font-style="italic">H</text>
<path d="M193.8 -3.9H205.9M202.5 -6.1l3.4 2.2l-3.4 2.2" fill="none" stroke="#000" stroke-width="0.85" stroke-linejoin="miter"/>
<text x="208.8" y="0" font-style="italic" textLength="16.4" lengthAdjust="spacingAndGlyphs">ZZ</text>
<text x="227.4" y="0" >)</text>
<text x="234.9" y="0" textLength="20.6" lengthAdjust="spacingAndGlyphs">[pb]</text>
</g>
<text x="274.2" y="344.6" font-size="11.40" text-anchor="start" font-weight="bold" font-style="italic" textLength="40.8" lengthAdjust="spacingAndGlyphs">ATLAS</text>
<path d="M274.4 355.1l1.1 -0.7l1.7 5.3l1.6 -9.6h5.6" fill="none" stroke="#000" stroke-width="0.8"/>
<text x="279.1" y="358.8" font-size="11.00" text-anchor="start" textLength="90.6" lengthAdjust="spacingAndGlyphs">s = 13 TeV, 36.1 fb</text>
<text x="370.0" y="354.2" font-size="6.90" text-anchor="start" >-1</text>
<text x="273.7" y="376.4" font-size="11.00" text-anchor="start" font-style="italic">H</text>
<path d="M286.0 372.9H296.8M293.4 370.7l3.4 2.2l-3.4 2.2" fill="none" stroke="#000" stroke-width="0.80" stroke-linejoin="miter"/>
<text x="300.8" y="376.4" font-size="11.00" text-anchor="start" font-style="italic">ZZ</text>
<path d="M320.5 372.9H331.1M327.7 370.7l3.4 2.2l-3.4 2.2" fill="none" stroke="#000" stroke-width="0.80" stroke-linejoin="miter"/>
<text x="333.7" y="376.4" font-size="11.00" text-anchor="start" font-style="italic" textLength="25.8" lengthAdjust="spacing">l<tspan dy="-4.18" font-size="6.82">+</tspan><tspan dy="4.18" font-size="11.00">&#8203;</tspan>l<tspan dy="-4.18" font-size="6.82">&#8722;</tspan><tspan dy="4.18" font-size="11.00">&#8203;</tspan>l<tspan dy="-4.18" font-size="6.82">+</tspan><tspan dy="4.18" font-size="11.00">&#8203;</tspan>l<tspan dy="-4.18" font-size="6.82">&#8722;</tspan><tspan dy="4.18" font-size="11.00">&#8203;</tspan></text>
<text x="364.2" y="376.4" font-size="11.00" text-anchor="start" >+</text>
<text x="374.4" y="376.4" font-size="11.00" text-anchor="start" font-style="italic" textLength="12.9" lengthAdjust="spacing">l<tspan dy="-4.18" font-size="6.82">+</tspan><tspan dy="4.18" font-size="11.00">&#8203;</tspan>l<tspan dy="-4.18" font-size="6.82">&#8722;</tspan><tspan dy="4.18" font-size="11.00">&#8203;</tspan></text>
<text x="388.4" y="376.4" font-size="11.00" text-anchor="start" textLength="10.8" lengthAdjust="spacingAndGlyphs">&#957;&#957;</text>
<path d="M394.2 369.5h4.6" stroke="#000" stroke-width="0.75"/>
<text x="274.0" y="391.3" font-size="11.00" text-anchor="start" >LWA,</text>
<text x="303.0" y="391.3" font-size="11.00" text-anchor="start" font-style="italic">&#915;</text>
<text x="311.8" y="394.5" font-size="7.30" text-anchor="start" font-style="italic">H</text>
<text x="320.9" y="391.3" font-size="11.00" text-anchor="start" >= 0.1 &#215;</text>
<text x="357.6" y="391.3" font-size="11.00" text-anchor="start" font-style="italic">m</text>
<text x="367.1" y="394.5" font-size="7.30" text-anchor="start" font-style="italic">H</text>
<path d="M429.9 350.2H448.5" stroke="#000" stroke-width="1.9"/>
<circle cx="439.2" cy="350.2" r="2.0" fill="#000"/>
<path d="M429.9 367.9H448.5" stroke="#000" stroke-width="1.9" stroke-dasharray="2.4 2.8"/>
<rect x="429.9" y="379.4" width="18.6" height="12.2" fill="#58fb0e" stroke="#1a1a00" stroke-width="0.7"/>
<rect x="429.9" y="397.1" width="18.6" height="12.2" fill="#f6fd18" stroke="#1a1a00" stroke-width="0.7"/>
<path d="M429.9 420.8H448.5" stroke="#3a66d8" stroke-width="1.5" stroke-dasharray="4.2 3.0"/>
<path d="M429.9 438.5H448.5" stroke="#e0341c" stroke-width="2.3" stroke-opacity="0.6" stroke-dasharray="0.85 1.15"/>
<text x="452.6" y="353.8" font-size="8.70" text-anchor="start" id="lg-c-0">Observed CL<tspan dy="3.83" font-size="7.48" font-style="normal">s</tspan><tspan dy="-3.83" font-size="8.70">&#8203;</tspan> limit</text>
<text x="452.6" y="371.5" font-size="8.70" text-anchor="start" id="lg-c-1">Expected CL<tspan dy="3.83" font-size="7.48" font-style="normal">s</tspan><tspan dy="-3.83" font-size="8.70">&#8203;</tspan> limit</text>
<text x="452.6" y="389.1" font-size="8.70" text-anchor="start" id="lg-c-2">Expected &#177; 1&#963;</text>
<text x="452.6" y="406.8" font-size="8.70" text-anchor="start" id="lg-c-3">Expected &#177; 2&#963;</text>
<text x="452.6" y="424.4" font-size="8.70" text-anchor="start" id="lg-c-4">Expected CL<tspan dy="3.83" font-size="7.48" font-style="normal">s</tspan><tspan dy="-3.83" font-size="8.70">&#8203;</tspan> limit</text>
<text x="452.6" y="442.1" font-size="8.70" text-anchor="start" id="lg-c-5">Expected CL<tspan dy="3.83" font-size="7.48" font-style="normal">s</tspan><tspan dy="-3.83" font-size="8.70">&#8203;</tspan> limit</text>
<text x="526.8" y="424.4" font-size="8.70" text-anchor="start" textLength="27.6" lengthAdjust="spacing">(<tspan font-style="italic">l<tspan dy="-3.31" font-size="5.39">+</tspan><tspan dy="3.31" font-size="8.70">&#8203;</tspan>l<tspan dy="-3.31" font-size="5.39">&#8722;</tspan><tspan dy="3.31" font-size="8.70">&#8203;</tspan>l<tspan dy="-3.31" font-size="5.39">+</tspan><tspan dy="3.31" font-size="8.70">&#8203;</tspan>l<tspan dy="-3.31" font-size="5.39">&#8722;</tspan><tspan dy="3.31" font-size="8.70">&#8203;</tspan></tspan>)</text>
<text x="526.8" y="442.1" font-size="8.70" text-anchor="start" textLength="27.0" lengthAdjust="spacing">(<tspan font-style="italic">l<tspan dy="-3.31" font-size="5.39">+</tspan><tspan dy="3.31" font-size="8.70">&#8203;</tspan>l<tspan dy="-3.31" font-size="5.39">&#8722;</tspan><tspan dy="3.31" font-size="8.70">&#8203;</tspan></tspan>&#957;&#957;)</text>
<path d="M546.4 436.3h3.9" stroke="#000" stroke-width="0.65"/>
</g>
</g>
<g font-family="Liberation Serif, serif" font-weight="bold" font-size="20.3" fill="#000" text-anchor="middle">
<text x="199.5" y="289.0">(a)</text>
<text x="592.5" y="289.0">(b)</text>
<text x="408.0" y="604.8">(c)</text>
</g>
</svg>
</body></html>
